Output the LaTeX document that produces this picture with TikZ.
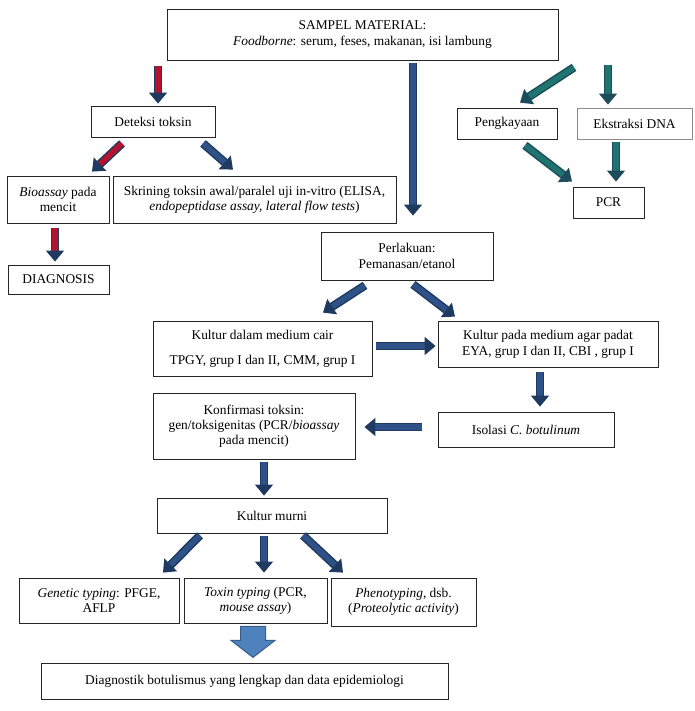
\documentclass[tikz,border=0pt]{standalone}
\usepackage{fontspec}
\setmainfont{Liberation Serif}
\usepackage{xcolor}
\usetikzlibrary{arrows.meta}

\definecolor{navyline}{HTML}{1F3A60}
\definecolor{navyfill}{HTML}{2E5288}
\definecolor{redfill}{HTML}{B5122E}
\definecolor{tealline}{HTML}{1D4D5C}
\definecolor{tealfill}{HTML}{1F7470}
\definecolor{bigfill}{HTML}{4F81BD}
\definecolor{bigline}{HTML}{385D8A}

\tikzset{
    box/.style={draw=black!85, line width=0.8pt, align=center, inner sep=2pt,
                font=\fontsize{13.4}{15.2}\selectfont},
    flow/.style={draw=navyline, line width=1.5pt, double=#1, double distance=5.5pt,
                 -{Triangle[width=18pt,length=11pt]}},
    blueflow/.style={flow=navyfill},
    redflow/.style={flow=redfill},
    tealflow/.style={flow=tealfill, draw=tealline},
    bigflow/.style={draw=bigline, fill=bigfill, line width=1pt, line join=miter}
}

\begin{document}
\begin{tikzpicture}[x=1pt, y=-1pt]
    \useasboundingbox (0,0) rectangle (694,711);

    %% boxes
    \node[box, minimum width=391, minimum height=51] (sampel) at (362.5,34.5)
        {SAMPEL MATERIAL:\\ \textit{Foodborne}: serum, feses, makanan, isi lambung};
    \node[box, minimum width=124, minimum height=31] (deteksi) at (153,121.5) {Deteksi toksin};
    \node[box, minimum width=102, minimum height=47] (bioassay) at (58,199.5)
        {\textit{Bioassay} pada\\ mencit};
    \node[box, minimum width=283, minimum height=47] (skrining) at (254.5,199.5)
        {Skrining toksin awal/paralel uji in-vitro (ELISA,\\ \textit{endopeptidase assay, lateral flow tests})};
    \node[box, minimum width=101, minimum height=29] (diagnosis) at (58.5,279.5) {DIAGNOSIS};

    \node[box, minimum width=100, minimum height=31] (pengkayaan) at (507,123.5) {Pengkayaan};
    \node[box, draw=black!45, minimum width=115, minimum height=31] (ekstraksi) at (634.5,123.5) {Ekstraksi DNA};
    \node[box, minimum width=71, minimum height=31] (pcr) at (608.5,202.5) {PCR};

    \node[box, minimum width=172, minimum height=48] (perlakuan) at (407,256)
        {Perlakuan:\\ Pemanasan/etanol};
    \node[box, minimum width=219, minimum height=55] (cair) at (262.5,348.5)
        {Kultur dalam medium cair\\[10pt] TPGY, grup I dan II, CMM, grup I};
    \node[box, minimum width=220, minimum height=46] (padat) at (548,344)
        {Kultur pada medium agar padat\\[1pt] EYA, grup I dan II, CBI , grup I};
    \node[box, minimum width=202, minimum height=66] (konfirmasi) at (254,426)
        {Konfirmasi toksin:\\ gen/toksigenitas (PCR/\textit{bioassay}\\ pada mencit)};
    \node[box, minimum width=176, minimum height=35] (isolasi) at (526,429.5)
        {Isolasi \textit{C. botulinum}};
    \node[box, minimum width=230, minimum height=35] (murni) at (272,515.5) {Kultur murni};

    \node[box, minimum width=160, minimum height=45] (genetic) at (99,600.5)
        {\textit{Genetic typing}: PFGE,\\ AFLP};
    \node[box, minimum width=143, minimum height=45] (toxin) at (255.5,600.5)
        {\textit{Toxin typing} (PCR,\\ \textit{mouse assay})};
    \node[box, minimum width=145, minimum height=48] (pheno) at (403.5,602)
        {\textit{Phenotyping}, dsb.\\ (\textit{Proteolytic activity})};
    \node[box, minimum width=407, minimum height=36] (diag) at (244.5,681)
        {Diagnostik botulismus yang lengkap dan data epidemiologi};

    %% left branch
    \draw[redflow] ([shift={(-204.5,6)}]sampel.south) -- ([shift={(5,-2)}]deteksi.north);
    \draw[redflow] ([shift={(-31,6)}]deteksi.south) -- ([shift={(34,-4)}]bioassay.north);
    \draw[blueflow] ([shift={(50,6)}]deteksi.south) -- ([shift={(-21.5,-6)}]skrining.north);
    \draw[redflow] ([shift={(-3,5)}]bioassay.south) -- ([shift={(-3.5,-3)}]diagnosis.north);

    %% right branch
    \draw[tealflow] ([shift={(211.5,7)}]sampel.south) -- ([shift={(13,-5)}]pengkayaan.north);
    \draw[tealflow] ([shift={(245.5,5)}]sampel.south) -- ([shift={(-26.5,-3)}]ekstraksi.north);
    \draw[tealflow] ([shift={(18,6)}]pengkayaan.south) -- ([shift={(-36.5,-5)}]pcr.north);
    \draw[tealflow] ([shift={(-18.5,3)}]ekstraksi.south) -- ([shift={(7.5,-5)}]pcr.north);

    %% culture
    \draw[blueflow] ([shift={(50.5,3)}]sampel.south) -- ([shift={(6,-16)}]perlakuan.north);
    \draw[blueflow] ([shift={(-42,5)}]perlakuan.south) -- ([shift={(60.5,-8)}]cair.north);
    \draw[blueflow] ([shift={(6,4)}]perlakuan.south) -- ([shift={(-93,-4)}]padat.north);
    \draw[blueflow] ([shift={(4,-2.5)}]cair.east) -- ([shift={(-2,2)}]padat.west);
    \draw[blueflow] ([shift={(-8,5)}]padat.south) -- ([shift={(14,-5)}]isolasi.north);
    \draw[blueflow] ([shift={(-16,-2.5)}]isolasi.west) -- ([shift={(9,1)}]konfirmasi.east);
    \draw[blueflow] ([shift={(10,3)}]konfirmasi.south) -- ([shift={(-8,-2)}]murni.north);

    %% typing
    \draw[blueflow] ([shift={(-72,2)}]murni.south) -- ([shift={(64,-5)}]genetic.north);
    \draw[blueflow] ([shift={(-8,3)}]murni.south) -- ([shift={(8.5,-5)}]toxin.north);
    \draw[blueflow] ([shift={(31,2)}]murni.south) -- ([shift={(-60.5,-5)}]pheno.north);

    % big arrow
    \coordinate (bigtop) at ([shift={(-2.5,3)}]toxin.south);
    \draw[bigflow] ([shift={(-12.5,0)}]bigtop) -- ++(25,0) -- ++(0,14) -- ++(9.5,0)
        -- ++(-22,17) -- ++(-22,-17) -- ++(9.5,0) -- cycle;
\end{tikzpicture}
\end{document}
